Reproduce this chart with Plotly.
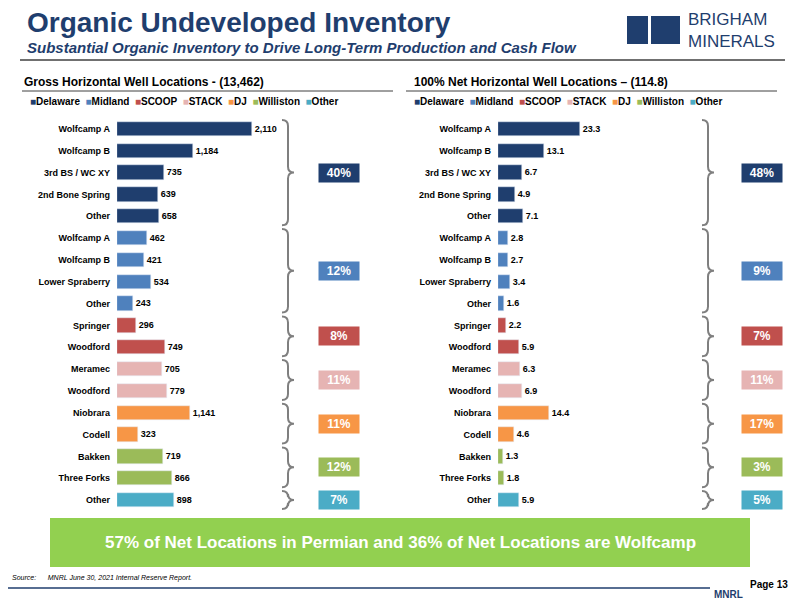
import plotly.graph_objects as go

labels = ["Wolfcamp A","Wolfcamp B","3rd BS / WC XY","2nd Bone Spring","Other",
          "Wolfcamp A","Wolfcamp B","Lower Spraberry","Other",
          "Springer","Woodford","Meramec","Woodford","Niobrara","Codell",
          "Bakken","Three Forks","Other"]
gross = [2110,1184,735,639,658,462,421,534,243,296,749,705,779,1141,323,719,866,898]
net = [23.3,13.1,6.7,4.9,7.1,2.8,2.7,3.4,1.6,2.2,5.9,6.3,6.9,14.4,4.6,1.3,1.8,5.9]
basins = ["Delaware","Midland","SCOOP","STACK","DJ","Williston","Other"]
basin_colors = ["#1F3E6E","#4F81BD","#C0504D","#E6B4B3","#F79646","#9BBB59","#4BACC6"]
groups = [(0,4),(5,8),(9,10),(11,12),(13,14),(15,16),(17,17)]
pct_gross = ["40%","12%","8%","11%","11%","12%","7%"]
pct_net = ["48%","9%","7%","11%","17%","3%","5%"]

row_color = []
for gi,(a,b) in enumerate(groups):
    row_color += [basin_colors[gi]]*(b-a+1)

OFF = 8
W,H = 800-OFF, 600-OFF
px = lambda x: (x-OFF)/W
py = lambda y: 1-(y-OFF)/H
rows = list(range(len(labels)))
ytop, ybot = 118, 511

fig = go.Figure()
fig.add_trace(go.Bar(y=rows, x=gross, orientation="h", marker_color=row_color, width=0.65,
    text=[f"<b>{v:,}</b>" for v in gross], textposition="outside", cliponaxis=False,
    textfont=dict(size=9, color="#000"),
    xaxis="x", yaxis="y", showlegend=False))
fig.add_trace(go.Bar(y=rows, x=net, orientation="h", marker_color=row_color, width=0.65,
    text=[f"<b>{v:.1f}</b>" for v in net], textposition="outside", cliponaxis=False,
    textfont=dict(size=9, color="#000"),
    xaxis="x2", yaxis="y2", showlegend=False))

yax = dict(tickmode="array", tickvals=rows, ticktext=[f"<b>{l}</b>" for l in labels],
           autorange=False, range=[17.5,-0.5], showgrid=False, ticks="", showline=False,
           ticklabelstandoff=6,
           tickfont=dict(size=9, family="Liberation Sans", color="#000"),
           domain=[py(ybot), py(ytop)])
fig.update_layout(
    width=W, height=H, margin=dict(l=0,r=0,t=0,b=0),
    plot_bgcolor="white", paper_bgcolor="white", bargap=0,
    xaxis=dict(domain=[px(117),px(290)], range=[0,2110*173/135], visible=False),
    yaxis=dict(**yax, anchor="x"),
    xaxis2=dict(domain=[px(498),px(680)], range=[0,23.3*182/82], visible=False),
    yaxis2=dict(**yax, anchor="x2"),
    font=dict(family="Liberation Sans"),
)

shapes=[]; ann=[]
def A(x, y, text, size, color="#000", xanchor="left", **kw):
    ann.append(dict(x=px(x), y=py(y), xref="paper", yref="paper", xanchor=xanchor, yanchor="middle",
                    showarrow=False, text=text, font=dict(size=size, color=color), **kw))
def rowy(i): return ytop + (i+0.5)*(ybot-ytop)/18
def brace(x0, yt, yb, w=12, r=6):
    xm = x0+w*0.5; x1 = x0+w; ym=(yt+yb)/2
    P=lambda x,y: f"{px(x):.5f},{py(y):.5f}"
    return (f"M{P(x0,yt)} Q{P(xm,yt)} {P(xm,yt+r)} L{P(xm,ym-r)} Q{P(xm,ym)} {P(x1,ym)} "
            f"Q{P(xm,ym)} {P(xm,ym+r)} L{P(xm,yb-r)} Q{P(xm,yb)} {P(x0,yb)}")
for bx, boxx, pcts in [(282,339,pct_gross),(702,762,pct_net)]:
    for gi,(a,b) in enumerate(groups):
        yt = rowy(a)-9; yb = rowy(b)+9
        shapes.append(dict(type="path", path=brace(bx,yt,yb), xref="paper", yref="paper",
                           line=dict(color="#7F7F7F", width=2)))
        A(boxx, (yt+yb)/2, f"<b>{pcts[gi]}</b>", 12, "white", xanchor="center",
          bgcolor=basin_colors[gi], width=38, height=16, borderpad=1)

A(25, 22, "<b>Organic Undeveloped Inventory</b>", 28, "#1F3E6E")
A(25, 48, "<b><i>Substantial Organic Inventory to Drive Long-Term Production and Cash Flow</i></b>", 15, "#1F3E6E")
shapes.append(dict(type="line", xref="paper", yref="paper", x0=px(20), x1=px(785), y0=py(60), y1=py(60),
    line=dict(color="#404040", width=1.5)))
# logo
shapes.append(dict(type="rect", xref="paper", yref="paper", x0=px(627), x1=px(648), y0=py(44), y1=py(16),
    fillcolor="#1F3E6E", line_width=0))
shapes.append(dict(type="rect", xref="paper", yref="paper", x0=px(651), x1=px(680), y0=py(44), y1=py(16),
    fillcolor="#1F3E6E", line_width=0))
A(686, 30, "BRIGHAM<br>MINERALS", 17, "#1F3E6E", align="left")

A(22, 82, "<b>Gross Horizontal Well Locations - (13,462)</b>", 12)
A(412, 82, "<b>100% Net Horizontal Well Locations – (114.8)</b>", 12)
for lx in [28, 412]:
    shapes.append(dict(type="line", xref="paper", yref="paper", x0=px(lx-6), x1=px(lx+365), y0=py(91), y1=py(91),
        line=dict(color="#404040", width=1)))
    leg = "  ".join(f"<span style='color:{c}'>■</span><b>{n}</b>" for n,c in zip(basins,basin_colors))
    A(lx, 101, leg, 10)

shapes.append(dict(type="rect", xref="paper", yref="paper", x0=px(50), x1=px(750), y0=py(567), y1=py(518),
    fillcolor="#92D050", line_width=0))
A(400, 542, "<b>57% of Net Locations in Permian and 36% of Net Locations are Wolfcamp</b>", 17, "white", xanchor="center")
A(10, 578, "<i>Source:      MNRL June 30, 2021 Internal Reserve Report.</i>", 7)
shapes.append(dict(type="line", xref="paper", yref="paper", x0=px(8), x1=px(710), y0=py(588), y1=py(588),
    line=dict(color="#1F3E6E", width=1.5)))
A(790, 584, "<b>Page 13</b>", 10, xanchor="right")
A(745, 594, "<b>MNRL</b>", 10, "#1F3E6E", xanchor="right")

fig.update_layout(shapes=shapes, annotations=ann)
fig.write_html("out.html")
